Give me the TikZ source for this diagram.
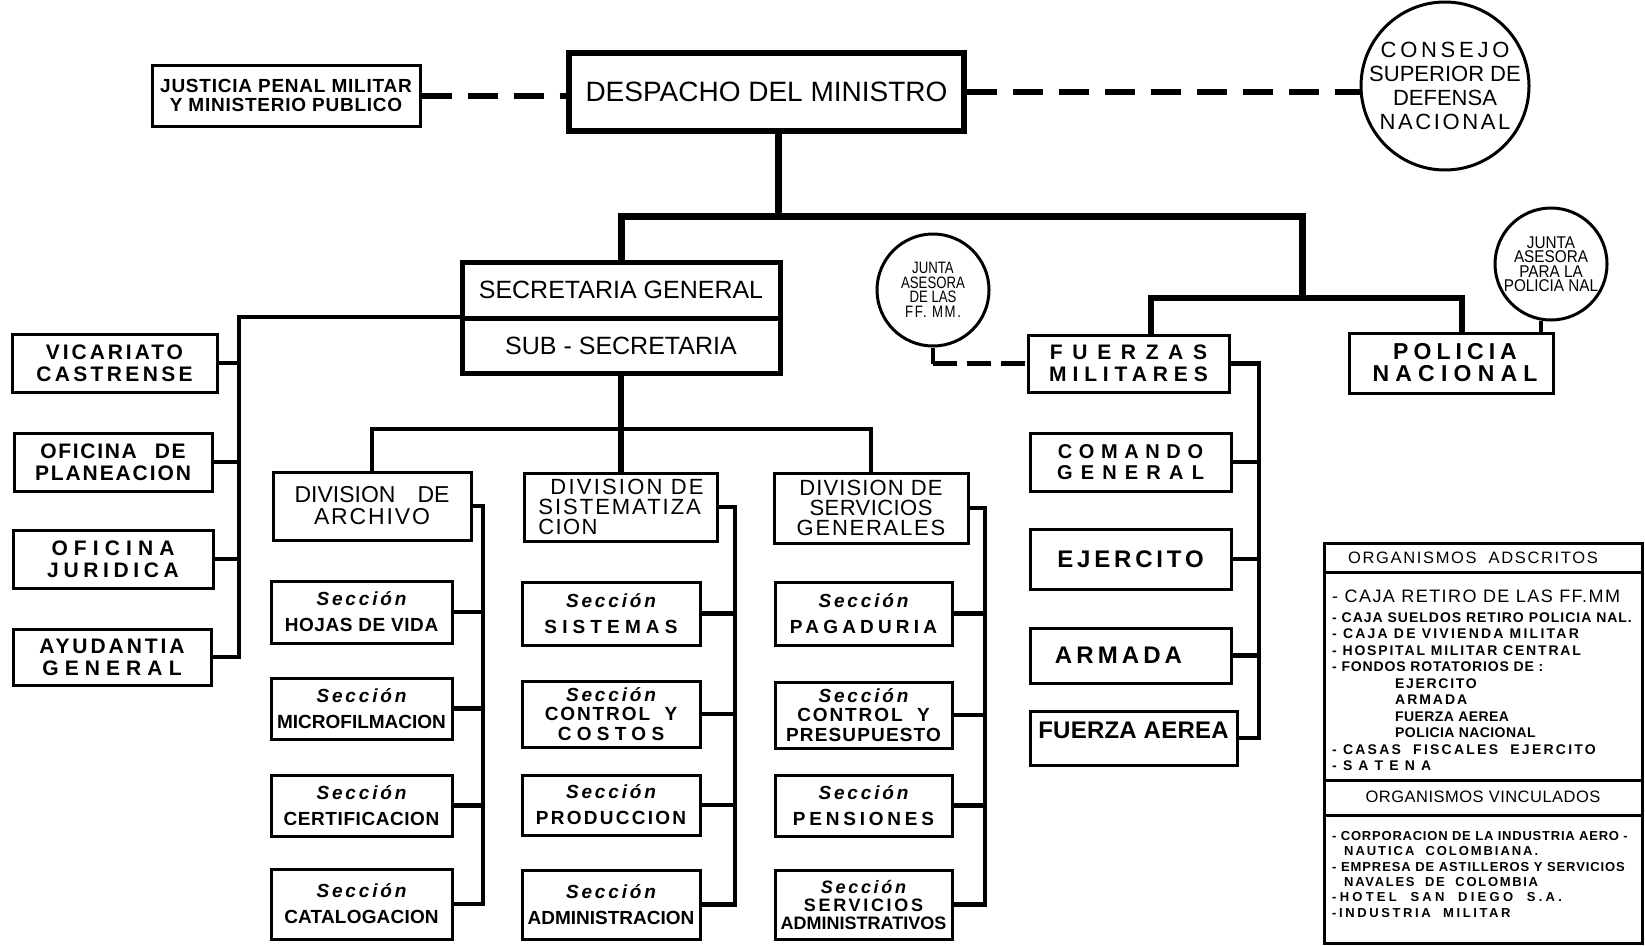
\documentclass[tikz,border=0pt]{standalone}
\usepackage{fontspec}
\setmainfont{Liberation Sans}
\newfontfamily\narrowsans[FakeStretch=0.8]{Liberation Sans}
\newfontfamily\semisans[FakeStretch=0.9]{Liberation Sans}
\newcommand\fsz[2]{\fontsize{#1}{#2}\selectfont}
\newcommand\lsp[1]{\addfontfeatures{LetterSpace=#1}}
\newcommand\seccion{{\itshape\lsp{15}Sección}}

\begin{document}
\begin{tikzpicture}[x=1pt, y=-1pt,
    box/.style={rectangle, draw, line width=3pt, inner sep=0pt, align=center},
    unitbox/.style={box, minimum height=58pt, font=\fsz{21}{22}\bfseries},
    divbox/.style={box, minimum height=68pt, font=\fsz{22}{20}},
    secbox/.style={box, font=\fsz{19}{26}\bfseries},
    tallsec/.style={secbox, font=\fsz{19}{19.5}\bfseries},
    armbox/.style={box, minimum width=201pt, font=\fsz{24}{22}\bfseries},
    circ/.style={circle, draw, line width=3pt, inner sep=0pt, align=center},
    link/.style={line width=4.5pt},
    mainlink/.style={line width=7pt},
    dashlink/.style={line width=6pt, dash pattern=on 30pt off 16pt}]
        \fill[white] (0,0) rectangle (1645,945);
        \useasboundingbox (0,0) rectangle (1645,945);

        \node (justicia) [box, minimum width=268pt, minimum height=61pt, font=\fsz{19}{18.5}\bfseries] at (286,95.5) {{\lsp{4}JUSTICIA PENAL MILITAR}\\{\lsp{4}Y MINISTERIO PUBLICO}};
        \node (despacho) [box, line width=6pt, minimum width=395pt, minimum height=78pt, font=\fsz{28}{30}] at (766.5,92) {DESPACHO DEL MINISTRO};
        \node (consejo) [circ, inner sep=-8pt, minimum size=168pt, font=\fsz{22}{24}] at (1445,86) {{\lsp{17}CONSEJO}\\SUPERIOR DE\\DEFENSA\\{\lsp{12}NACIONAL}};

        \node (secgen) [box, line width=5pt, minimum width=318pt, minimum height=56pt, font=\fsz{25}{27}] at (621,290) {SECRETARIA GENERAL};
        \node (subsec) [box, line width=5pt, minimum width=318pt, minimum height=55pt, font=\fsz{25}{27}] at (621,345.5) {SUB - SECRETARIA};

        \node (vicariato) [unitbox, minimum width=205pt] at (114.5,363) {{\lsp{14}VICARIATO}\\{\lsp{16}CASTRENSE}};
        \node (planeacion) [unitbox, minimum width=198pt] at (113,462) {{\lsp{8}OFICINA\hspace{18pt}DE}\\{\lsp{9}PLANEACION}};
        \node (juridica) [unitbox, minimum width=200pt] at (113,559) {{\lsp{29}OFICINA}\\{\lsp{22}JURIDICA}};
        \node (ayudantia) [unitbox, minimum width=198pt, minimum height=56pt] at (112,657) {{\lsp{14}AYUDANTIA}\\{\lsp{29}GENERAL}};

        \node (archivo) [divbox, minimum width=198pt, font=\fsz{23}{22}] at (372,506) {DIVISION\hspace{22pt}DE\\{\lsp{8}ARCHIVO}};
        \node (sistematiza) [divbox, minimum width=193pt, align=left] at (621,507) {\hspace*{12pt}{\lsp{10}DIVISION DE}\\{\lsp{9}SISTEMATIZA}\\{\lsp{6}CION}};
        \node (servicios) [divbox, minimum width=194pt, minimum height=70pt] at (871,508) {{\lsp{5}DIVISION DE}\\{\lsp{2}SERVICIOS}\\{\lsp{8}GENERALES}};

        \node (hojas) [secbox, minimum width=181pt, minimum height=62pt] at (361.5,612) {\seccion\\{\lsp{3}HOJAS DE VIDA}};
        \node (microfilm) [secbox, minimum width=181pt, minimum height=61pt] at (361.5,708.5) {\seccion\\MICROFILMACION};
        \node (certifica) [secbox, minimum width=181pt, minimum height=61pt] at (361.5,805.5) {\seccion\\{\lsp{3}CERTIFICACION}};
        \node (cataloga) [secbox, minimum width=181pt, minimum height=70pt] at (361.5,904) {\seccion\\{\lsp{1}CATALOGACION}};

        \node (sistemas) [secbox, minimum width=178pt, minimum height=63pt] at (611,613.5) {\seccion\\{\lsp{27}SISTEMAS}};
        \node (costos) [tallsec, minimum width=178pt, minimum height=66pt] at (611,714) {\seccion\\{\lsp{10}CONTROL\ \ Y}\\{\lsp{28}COSTOS}};
        \node (produccion) [secbox, minimum width=178pt, minimum height=60pt] at (611,805) {\seccion\\{\lsp{12}PRODUCCION}};
        \node (administra) [secbox, minimum width=178pt, minimum height=69pt] at (611,904.5) {\seccion\\ADMINISTRACION};

        \node (pagaduria) [secbox, minimum width=177pt, minimum height=63pt] at (863.5,613.5) {\seccion\\{\lsp{22}PAGADURIA}};
        \node (presupuesto) [tallsec, minimum width=177pt, minimum height=66pt] at (863.5,715) {\seccion\\{\lsp{10}CONTROL\ \ Y}\\{\lsp{6}PRESUPUESTO}};
        \node (pensiones) [secbox, minimum width=177pt, minimum height=61pt] at (863.5,805.5) {\seccion\\{\lsp{20}PENSIONES}};
        \node (servadmin) [tallsec, minimum width=177pt, minimum height=69pt, font=\fsz{18}{18}\bfseries] at (863.5,904.5) {\seccion\\{\lsp{15}SERVICIOS}\\ADMINISTRATIVOS};

        \node (fuerzas) [box, minimum width=201pt, minimum height=57pt, font=\fsz{21}{22}\bfseries] at (1128.5,363.5) {{\lsp{46}FUERZAS}\\{\lsp{28}MILITARES}};
        \node (policia) [box, minimum width=204pt, minimum height=60pt, font=\fsz{23}{22}\bfseries] at (1451,363) {\hspace*{8pt}{\lsp{22}POLICIA}\\\hspace*{8pt}{\lsp{27}NACIONAL}};
        \node (comando) [armbox, minimum height=58pt, font=\fsz{20}{21}\bfseries] at (1130.5,462) {{\lsp{33}COMANDO}\\{\lsp{41}GENERAL}};
        \node (ejercito) [armbox, minimum height=60pt] at (1130.5,559) {\lsp{16}EJERCITO};
        \node (armada) [armbox, minimum height=55pt] at (1130.5,655.5) {{\lsp{17}ARMADA}\hspace*{24pt}};
        \node (aerea) [armbox, minimum width=207pt, minimum height=54pt] at (1133.5,738) {\raisebox{0pt}[0pt][0pt]{\lsp{1}FUERZA AEREA}};

        \node (juntaff) [circ, minimum size=112pt, font=\narrowsans\fsz{16.5}{14.5}] at (933,290) {JUNTA\\ASESORA\\DE LAS\\{\lsp{10}FF. MM.}};
        \node (juntapol) [circ, minimum size=112pt, font=\semisans\fsz{17}{14.5}] at (1551,264) {JUNTA\\ASESORA\\PARA LA\\POLICIA NAL};

        \node (organismos) [box, minimum width=318pt, minimum height=400pt] at (1483,743) {};
        \node (adscritos) [font=\fsz{16.5}{18}] at (1473,558) {{\lsp{10}ORGANISMOS}\hspace{12pt}{\lsp{10}ADSCRITOS}};
        \node (vinculados) [font=\fsz{16.5}{18}] at (1483,797) {\lsp{3}ORGANISMOS VINCULADOS};
        \node (listadscritos) [anchor=north west, inner sep=0pt, align=left, font=\fsz{14}{16.5}\bfseries] at (1332,589.5) {{\fsz{18}{16.5}\mdseries\lsp{8}- CAJA RETIRO DE LAS FF.MM}\\[3.5pt]
            {\lsp{7}- CAJA SUELDOS RETIRO POLICIA NAL.}\\
            {\lsp{16}- CAJA DE VIVIENDA MILITAR}\\
            {\lsp{13}- HOSPITAL MILITAR CENTRAL}\\
            {\lsp{6}- FONDOS ROTATORIOS DE :}\\
            \hspace*{63pt}{\lsp{12}EJERCITO}\\
            \hspace*{63pt}{\lsp{14}ARMADA}\\
            \hspace*{63pt}{\lsp{3}FUERZA AEREA}\\
            \hspace*{63pt}{\lsp{3}POLICIA NACIONAL}\\
            {\lsp{16}- CASAS\ \ FISCALES\ \ EJERCITO}\\
            {\lsp{16}- S A T E N A}};
        \node (listvinculados) [anchor=north west, inner sep=0pt, align=left, font=\fsz{13}{15.4}\bfseries] at (1332,831) {{\lsp{6}- CORPORACION DE LA INDUSTRIA AERO -}\\
            \hspace*{12pt}{\lsp{15}NAUTICA\ \ COLOMBIANA.}\\
            {\lsp{7}- EMPRESA DE ASTILLEROS Y SERVICIOS}\\
            \hspace*{12pt}{\lsp{13}NAVALES\ \ DE\ \ COLOMBIA}\\
            {\lsp{25}-HOTEL\ \ SAN\ \ DIEGO\ \ S.A.}\\
            {\lsp{20}-INDUSTRIA\ \ MILITAR}};

        \coordinate (orgrule1) at (1483,572);
        \coordinate (orgrule2) at (1483,780);
        \coordinate (orgrule3) at (1483,815);
        \draw[line width=3pt] (organismos.west |- orgrule1) -- (organismos.east |- orgrule1);
        \draw[line width=3pt] (organismos.west |- orgrule2) -- (organismos.east |- orgrule2);
        \draw[line width=3pt] (organismos.west |- orgrule3) -- (organismos.east |- orgrule3);

        \draw[dashlink] (justicia.east) -- (justicia.east -| despacho.west);
        \draw[dashlink] (despacho.east) -- (despacho.east -| consejo.west);

        \coordinate (trunk) at (778,216);
        \coordinate (rightbar) at (1302,216);
        \coordinate (ffpol) at (1302,298);
        \draw[mainlink] (trunk |- despacho.south) -- (trunk);
        \draw[mainlink] (secgen.north) |- (rightbar) -- (ffpol);
        \draw[link, line width=6pt] ([xshift=22pt]fuerzas.north) |- (ffpol) -| ([xshift=11pt]policia.north);

        \draw[link] (juntaff.south) -- (juntaff.south |- fuerzas.west);
        \draw[link, dash pattern=on 24pt off 10pt] (juntaff.south |- fuerzas.west) -- (fuerzas.west);
        \draw[link] (juntapol.-100) -- (juntapol.-100 |- policia.north);

        \coordinate (leftbus) at (239,317);
        \draw[link] (leftbus -| secgen.west) -- (leftbus) |- (ayudantia.east);
        \draw[link] (vicariato.east) -- (vicariato.east -| leftbus);
        \draw[link] (planeacion.east) -- (planeacion.east -| leftbus);
        \draw[link] (juridica.east) -- (juridica.east -| leftbus);

        \coordinate (midbar) at (621,429);
        \draw[link, line width=6pt] (subsec.south) -- (sistematiza.north);
        \draw[link] (archivo.north) |- (midbar) -| (servicios.north);

        \coordinate (archbus) at (483,510);
        \coordinate (sistbus) at (735,510);
        \coordinate (servbus) at (985,510);
        \coordinate (ffbus) at (1259,363);

        \draw[link] (archivo.east) -| (archbus |- cataloga.east) -- (cataloga.east);
        \draw[link] (hojas.east) -- (hojas.east -| archbus);
        \draw[link] (microfilm.east) -- (microfilm.east -| archbus);
        \draw[link] (certifica.east) -- (certifica.east -| archbus);

        \draw[link] (sistematiza.east) -| (sistbus |- administra.east) -- (administra.east);
        \draw[link] (sistemas.east) -- (sistemas.east -| sistbus);
        \draw[link] (costos.east) -- (costos.east -| sistbus);
        \draw[link] (produccion.east) -- (produccion.east -| sistbus);

        \draw[link] (servicios.east) -| (servbus |- servadmin.east) -- (servadmin.east);
        \draw[link] (pagaduria.east) -- (pagaduria.east -| servbus);
        \draw[link] (presupuesto.east) -- (presupuesto.east -| servbus);
        \draw[link] (pensiones.east) -- (pensiones.east -| servbus);

        \draw[link] (fuerzas.east) -| (ffbus |- aerea.east) -- (aerea.east);
        \draw[link] (comando.east) -- (comando.east -| ffbus);
        \draw[link] (ejercito.east) -- (ejercito.east -| ffbus);
        \draw[link] (armada.east) -- (armada.east -| ffbus);
    \end{tikzpicture}
\end{document}
